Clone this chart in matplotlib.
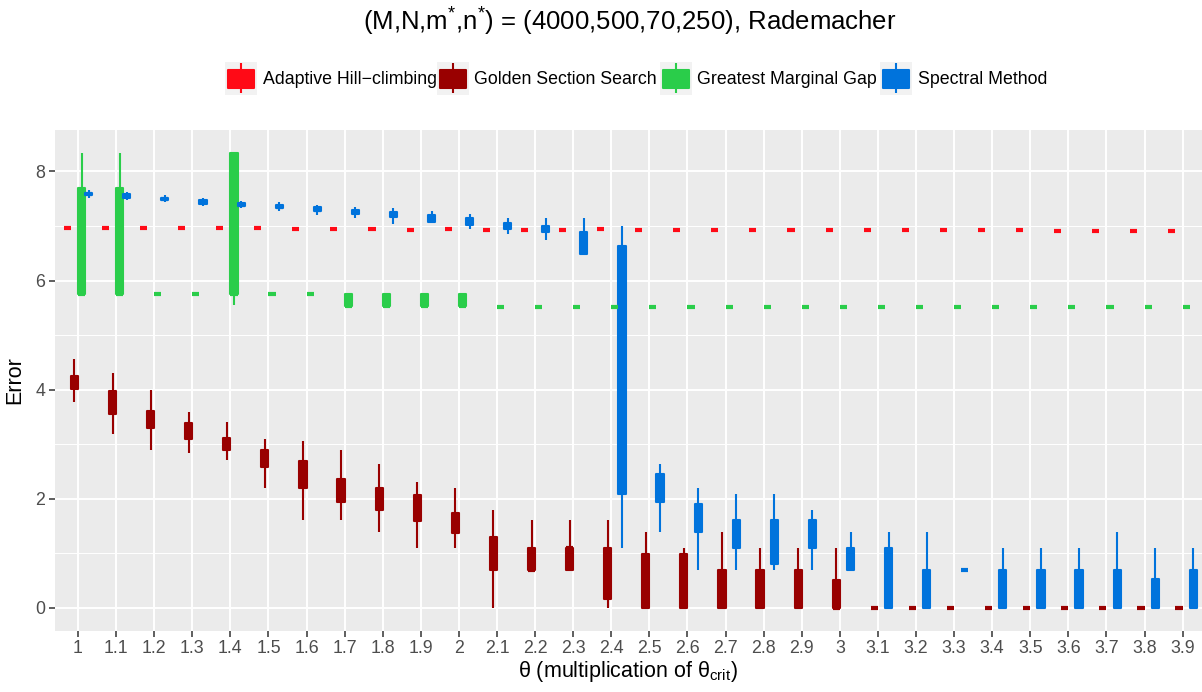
import matplotlib
matplotlib.use('Agg')
import matplotlib.pyplot as plt
from matplotlib.patches import Rectangle
import numpy as np

plt.rcParams['font.family'] = ['Liberation Sans', 'DejaVu Sans']
plt.rcParams['mathtext.fontset'] = 'custom'
plt.rcParams['mathtext.rm'] = 'Liberation Sans'
plt.rcParams['mathtext.it'] = 'Liberation Sans:italic'
plt.rcParams['mathtext.bf'] = 'Liberation Sans:bold'

# ---------------- data ----------------
categories = ['1', '1.1', '1.2', '1.3', '1.4', '1.5', '1.6', '1.7', '1.8', '1.9',
              '2', '2.1', '2.2', '2.3', '2.4', '2.5', '2.6', '2.7', '2.8', '2.9',
              '3', '3.1', '3.2', '3.3', '3.4', '3.5', '3.6', '3.7', '3.8', '3.9']
series_names = ['Adaptive Hill\u2212climbing', 'Golden Section Search',
                'Greatest Marginal Gap', 'Spectral Method']
series_colors = ['#FF0A16', '#990000', '#2ACD4A', '#0073DC']

# Adaptive Hill-climbing
ahc_lo  = [6.94, 6.96, 6.96, 6.96, 6.96, 6.94, 6.95, 6.95, 6.94, 6.93, 6.94, 6.93, 6.93, 6.93, 6.94,
           6.93, 6.93, 6.92, 6.92, 6.92, 6.90, 6.92, 6.92, 6.93, 6.92, 6.92, 6.91, 6.91, 6.90, 6.91]
ahc_q1  = [6.96, 6.97, 6.96, 6.96, 6.96, 6.96, 6.95, 6.95, 6.94, 6.93, 6.94, 6.93, 6.93, 6.93, 6.94,
           6.93, 6.93, 6.92, 6.92, 6.92, 6.92, 6.92, 6.92, 6.93, 6.92, 6.92, 6.91, 6.91, 6.90, 6.91]
ahc_med = [6.96, 6.97, 6.96, 6.96, 6.96, 6.96, 6.95, 6.95, 6.94, 6.93, 6.94, 6.93, 6.93, 6.93, 6.94,
           6.93, 6.93, 6.92, 6.92, 6.92, 6.92, 6.92, 6.92, 6.93, 6.92, 6.92, 6.91, 6.91, 6.90, 6.91]
ahc_q3  = [6.96, 6.97, 6.96, 6.96, 6.96, 6.96, 6.95, 6.95, 6.94, 6.93, 6.94, 6.93, 6.93, 6.93, 6.94,
           6.93, 6.93, 6.92, 6.92, 6.92, 6.92, 6.92, 6.92, 6.93, 6.92, 6.92, 6.91, 6.91, 6.90, 6.91]
ahc_hi  = [6.98, 6.98, 6.96, 6.96, 6.96, 6.98, 6.95, 6.95, 6.94, 6.93, 6.94, 6.93, 6.93, 6.93, 6.94,
           6.93, 6.93, 6.92, 6.92, 6.92, 6.94, 6.92, 6.92, 6.93, 6.92, 6.92, 6.91, 6.91, 6.90, 6.91]

# Golden Section Search
gss_lo  = [3.77, 3.18, 2.90, 2.83, 2.71, 2.20, 1.61, 1.61, 1.39, 1.10, 1.10, 0.00, 0.69, 0.69, 0.00,
           0.00, 0.00, 0.00, 0.00, 0.00, 0.00, 0.00, 0.00, 0.00, 0.00, 0.00, 0.00, 0.00, 0.00, 0.00]
gss_q1  = [4.02, 3.56, 3.30, 3.10, 2.89, 2.58, 2.20, 1.94, 1.79, 1.60, 1.38, 0.70, 0.70, 0.70, 0.17,
           0.00, 0.00, 0.00, 0.00, 0.00, 0.00, 0.00, 0.00, 0.00, 0.00, 0.00, 0.00, 0.00, 0.00, 0.00]
gss_med = [4.11, 3.76, 3.43, 3.22, 3.00, 2.71, 2.48, 2.20, 1.95, 1.79, 1.61, 1.10, 0.69, 1.10, 0.69,
           0.69, 0.69, 0.35, 0.35, 0.35, 0.00, 0.00, 0.00, 0.00, 0.00, 0.00, 0.00, 0.00, 0.00, 0.00]
gss_q3  = [4.25, 3.97, 3.60, 3.38, 3.12, 2.89, 2.70, 2.37, 2.19, 2.07, 1.74, 1.30, 1.10, 1.10, 1.10,
           0.99, 0.99, 0.69, 0.69, 0.69, 0.51, 0.00, 0.00, 0.00, 0.00, 0.00, 0.00, 0.00, 0.00, 0.00]
gss_hi  = [4.57, 4.31, 4.00, 3.59, 3.40, 3.09, 3.05, 2.89, 2.63, 2.30, 2.20, 1.79, 1.61, 1.61, 1.61,
           1.39, 1.10, 1.39, 1.10, 1.10, 1.10, 0.00, 0.00, 0.00, 0.00, 0.00, 0.00, 0.00, 0.00, 0.00]

# Greatest Marginal Gap
gmg_lo  = [5.75, 5.75, 5.76, 5.76, 5.55, 5.76, 5.76, 5.54, 5.54, 5.54, 5.54, 5.52, 5.52, 5.52, 5.52,
           5.52, 5.52, 5.52, 5.52, 5.52, 5.52, 5.52, 5.52, 5.52, 5.52, 5.52, 5.52, 5.52, 5.52, 5.52]
gmg_q1  = [5.75, 5.75, 5.76, 5.76, 5.75, 5.76, 5.76, 5.54, 5.54, 5.54, 5.54, 5.52, 5.52, 5.52, 5.52,
           5.52, 5.52, 5.52, 5.52, 5.52, 5.52, 5.52, 5.52, 5.52, 5.52, 5.52, 5.52, 5.52, 5.52, 5.52]
gmg_med = [5.75, 5.75, 5.76, 5.76, 5.75, 5.76, 5.76, 5.54, 5.54, 5.54, 5.54, 5.52, 5.52, 5.52, 5.52,
           5.52, 5.52, 5.52, 5.52, 5.52, 5.52, 5.52, 5.52, 5.52, 5.52, 5.52, 5.52, 5.52, 5.52, 5.52]
gmg_q3  = [7.70, 7.70, 5.76, 5.76, 8.33, 5.76, 5.76, 5.76, 5.76, 5.76, 5.76, 5.52, 5.52, 5.52, 5.52,
           5.52, 5.52, 5.52, 5.52, 5.52, 5.52, 5.52, 5.52, 5.52, 5.52, 5.52, 5.52, 5.52, 5.52, 5.52]
gmg_hi  = [8.34, 8.34, 5.76, 5.76, 8.34, 5.76, 5.76, 5.76, 5.76, 5.76, 5.76, 5.52, 5.52, 5.52, 5.52,
           5.52, 5.52, 5.52, 5.52, 5.52, 5.52, 5.52, 5.52, 5.52, 5.52, 5.52, 5.52, 5.52, 5.52, 5.52]

# Spectral Method
sm_lo  = [7.51, 7.47, 7.43, 7.37, 7.33, 7.27, 7.20, 7.14, 7.04, 7.05, 6.95, 6.85, 6.74, 6.49, 1.10,
          1.39, 0.69, 0.69, 0.69, 0.69, 0.69, 0.00, 0.00, 0.69, 0.00, 0.00, 0.00, 0.00, 0.00, 0.00]
sm_q1  = [7.56, 7.51, 7.47, 7.41, 7.36, 7.32, 7.27, 7.22, 7.16, 7.08, 7.02, 6.94, 6.89, 6.49, 2.09,
          1.95, 1.39, 1.10, 0.80, 1.10, 0.69, 0.00, 0.00, 0.69, 0.00, 0.00, 0.00, 0.00, 0.00, 0.00]
sm_med = [7.58, 7.55, 7.50, 7.44, 7.39, 7.35, 7.30, 7.25, 7.20, 7.14, 7.08, 7.00, 6.94, 6.70, 4.50,
          2.20, 1.61, 1.39, 1.10, 1.39, 0.90, 0.69, 0.35, 0.69, 0.35, 0.35, 0.35, 0.35, 0.25, 0.35]
sm_q3  = [7.61, 7.58, 7.52, 7.47, 7.42, 7.38, 7.34, 7.29, 7.25, 7.20, 7.15, 7.06, 7.00, 6.89, 6.63,
          2.46, 1.90, 1.61, 1.61, 1.61, 1.10, 1.10, 0.69, 0.69, 0.69, 0.69, 0.69, 0.69, 0.53, 0.69]
sm_hi  = [7.65, 7.63, 7.57, 7.52, 7.46, 7.43, 7.39, 7.34, 7.33, 7.28, 7.22, 7.14, 7.14, 7.14, 7.00,
          2.64, 2.20, 2.08, 2.08, 1.79, 1.39, 1.39, 1.39, 0.69, 1.10, 1.10, 1.10, 1.39, 1.10, 1.10]

y_ticks = [0, 2, 4, 6, 8]
title_text = r'(M,N,m$^{*}$,n$^{*}$) = (4000,500,70,250), Rademacher'
xlabel_text = '\u03b8 (multiplication of \u03b8$_{\\mathrm{crit}}$)'
ylabel_text = 'Error'

stats = [
    (ahc_lo, ahc_q1, ahc_med, ahc_q3, ahc_hi),
    (gss_lo, gss_q1, gss_med, gss_q3, gss_hi),
    (gmg_lo, gmg_q1, gmg_med, gmg_q3, gmg_hi),
    (sm_lo, sm_q1, sm_med, sm_q3, sm_hi),
]

# ---------------- figure ----------------
W, H = 1202, 692
fig = plt.figure(figsize=(W / 100, H / 100), dpi=100)
fig.patch.set_facecolor('white')

px_per_unit = 38.09
ax_left_px, ax_top_px, ax_bot_px = 55.15, 129.5, 630.7
xlim = (0.4, 30.6)
ax_w_px = (xlim[1] - xlim[0]) * px_per_unit
ax = fig.add_axes([ax_left_px / W, 1 - ax_bot_px / H, ax_w_px / W, (ax_bot_px - ax_top_px) / H])
ax.set_facecolor('#EBEBEB')
for s in ax.spines.values():
    s.set_visible(False)

ncat = len(categories)
xpos = np.arange(1, ncat + 1)
dodge = 0.75
nser = len(series_names)
slot = dodge / nser
box_w = slot
lw_line = 1.5

for si, (st, col) in enumerate(zip(stats, series_colors)):
    lo, q1, med, q3, hi = [np.asarray(a, dtype=float) for a in st]
    xs = xpos + (si - (nser - 1) / 2) * slot
    for x, a, b, m, c, d in zip(xs, lo, q1, med, q3, hi):
        if d > c:
            ax.plot([x, x], [c, d], color=col, lw=lw_line, solid_capstyle='butt', zorder=3)
        if b > a:
            ax.plot([x, x], [a, b], color=col, lw=lw_line, solid_capstyle='butt', zorder=3)
        ax.add_patch(Rectangle((x - box_w / 2, b), box_w, c - b, facecolor=col,
                               edgecolor=col, lw=lw_line, joinstyle='round', zorder=4))
        ax.plot([x - box_w / 2, x + box_w / 2], [m, m], color=col, lw=3.0,
                solid_capstyle='butt', zorder=5)

ax.set_xlim(*xlim)
ax.set_ylim(-0.4175, 8.7675)
ax.set_xticks(xpos)
ax.set_xticklabels(categories)
ax.set_yticks(y_ticks)
ax.set_yticklabels([str(v) for v in y_ticks])
ax.set_yticks([1, 3, 5, 7], minor=True)
ax.grid(True, which='major', color='white', lw=1.4, zorder=0)
ax.grid(True, which='minor', axis='y', color='white', lw=0.7, zorder=0)
ax.set_axisbelow(True)
ax.tick_params(axis='both', which='major', length=4, width=1.1, color='#333333',
               labelcolor='#4D4D4D', labelsize=12.8, pad=3)
ax.tick_params(axis='both', which='minor', length=0)

# titles
fig.text(630 / W, 1 - 22 / H, title_text, ha='center', va='center', fontsize=18.5, color='black')
fig.text(628 / W, 1 - 671 / H, xlabel_text, ha='center', va='center', fontsize=15.5, color='black')
fig.text(15 / W, 1 - 380 / H, ylabel_text, ha='center', va='center', rotation=90,
         fontsize=15.5, color='black')

# legend (drawn in pixel coordinates of an overlay)
lax = fig.add_axes([0, 0, 1, 1], zorder=10)
lax.set_xlim(0, W)
lax.set_ylim(H, 0)
lax.axis('off')
key_x = [225, 437, 660, 880]
text_x = [263, 474, 697, 918]
for kx, tx, name, col in zip(key_x, text_x, series_names, series_colors):
    lax.add_patch(Rectangle((kx, 62), 32, 33, facecolor='#F2F2F2', edgecolor='none'))
    lax.plot([kx + 16, kx + 16], [63, 93], color=col, lw=1.5, solid_capstyle='butt')
    lax.add_patch(Rectangle((kx + 3, 69.5), 26, 18.5, facecolor=col, edgecolor=col,
                            lw=1.5, joinstyle='round'))
    lax.text(tx, 84.5, name, ha='left', va='baseline', fontsize=12.8, color='black')

fig.savefig('out.png', dpi=100)
